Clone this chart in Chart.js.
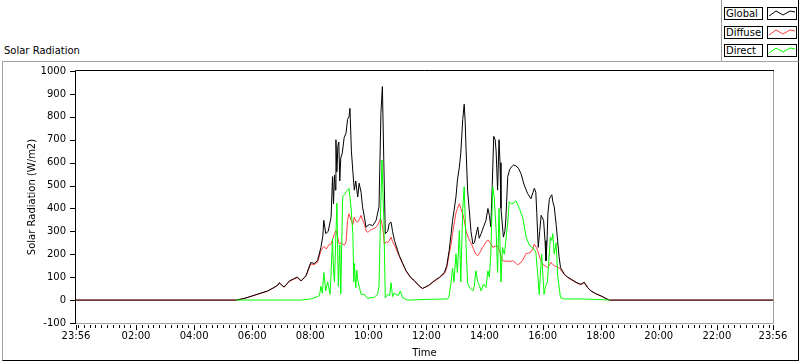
<!DOCTYPE html>
<html><head><meta charset="utf-8">
<script src="https://cdn.jsdelivr.net/npm/chart.js@4.4.0/dist/chart.umd.min.js"></script>
<style>
html,body{margin:0;padding:0;background:#fff;}
#wrap{position:relative;width:800px;height:361px;overflow:hidden;font-family:"DejaVu Sans",sans-serif;font-size:10px;color:#000;}
#frame{position:absolute;left:2px;top:61px;width:795px;height:298px;border-left:1px solid #a0a0a0;border-top:1px solid #a0a0a0;border-right:1px solid #000;border-bottom:1px solid #000;}
#legpanel{position:absolute;left:721px;top:0;width:76px;height:61px;border-left:1px solid #a0a0a0;border-right:1px solid #000;}
#title{position:absolute;left:4px;top:45px;line-height:12px;white-space:nowrap;}
.lab{position:absolute;left:724px;width:37px;height:11px;border:1px solid #000;line-height:11px;padding-left:0;white-space:nowrap;text-indent:1px;background:#fff;}
.smp{position:absolute;left:767px;width:28px;height:11px;border:1px solid #000;background:#fff;}
.smp svg{position:absolute;left:0;top:0;}
canvas{position:absolute;left:0;top:0;}
</style></head>
<body><div id="wrap">
<div id="frame"></div>
<div id="legpanel"></div>
<div id="title">Solar Radiation</div>
<div class="lab" style="top:7px">Global</div>
<div class="smp" style="top:7px"><svg width="28" height="11"><polyline points="1,8 8,3 15,7 22,3 27,4" fill="none" stroke="#000" stroke-width="1"/></svg></div>
<div class="lab" style="top:26px">Diffuse</div>
<div class="smp" style="top:26px"><svg width="28" height="11"><polyline points="1,8 8,3 15,7 22,3 27,4" fill="none" stroke="#ff4040" stroke-width="1"/></svg></div>
<div class="lab" style="top:44px">Direct</div>
<div class="smp" style="top:44px"><svg width="28" height="11"><polyline points="1,8 8,3 15,7 22,3 27,4" fill="none" stroke="#00ff00" stroke-width="1"/></svg></div>
<canvas id="c" width="800" height="361"></canvas>
</div>
<script>
// ---- data (times HH:MM, values W/m2) ----
const axisStartLabel = "23:56";   // previous day
const axisEndLabel = "23:56";
const yTickValues = [-100,0,100,200,300,400,500,600,700,800,900,1000];
const xMajorLabels = ["02:00","04:00","06:00","08:00","10:00","12:00","14:00","16:00","18:00","20:00","22:00"];

const globalTimes = ["05:27","05:45","06:04","06:20","06:32","06:45","06:53","06:56","07:00","07:06","07:17","07:25","07:33","07:41","07:51","08:01","08:08","08:15","08:22","08:26","08:28","08:32","08:37","08:43","08:46","08:48","08:50","08:52","08:53","08:55","08:57","08:59","09:01","09:03","09:06","09:10","09:14","09:17","09:20","09:22","09:25","09:28","09:31","09:34","09:38","09:41","09:45","09:48","09:52","09:55","10:02","10:09","10:16","10:22","10:26","10:29","10:32","10:35","10:40","10:43","10:47","10:50","10:54","11:04","11:11","11:18","11:28","11:35","11:45","11:52","12:05","12:16","12:27","12:37","12:42","12:47","12:51","12:54","12:57","13:01","13:04","13:08","13:11","13:15","13:18","13:20","13:22","13:25","13:29","13:32","13:36","13:39","13:42","13:46","13:49","13:53","13:58","14:03","14:07","14:10","14:13","14:16","14:19","14:22","14:24","14:27","14:30","14:32","14:34","14:39","14:42","14:44","14:48","14:52","14:55","15:00","15:05","15:10","15:15","15:22","15:29","15:36","15:40","15:43","15:46","15:48","15:51","15:54","15:57","16:02","16:05","16:07","16:09","16:11","16:14","16:16","16:19","16:21","16:24","16:28","16:31","16:34","16:37","16:45","16:52","16:59","17:09","17:19","17:26","17:33","17:40","17:50","18:01","18:10","18:18"];
const globalValues = [0,8,21,32,40,55,66,76,68,57,84,92,101,84,106,164,160,172,230,280,348,290,300,362,539,420,546,480,700,560,671,690,520,620,640,709,730,789,800,837,650,560,480,520,450,510,470,407,360,319,330,325,348,407,819,932,600,290,300,334,340,300,260,194,160,128,98,85,62,51,65,84,100,120,150,216,290,348,390,450,524,580,643,789,855,780,650,480,380,300,245,250,280,319,270,290,320,348,400,370,320,500,715,700,650,480,700,600,400,275,300,350,539,570,580,590,586,575,554,502,465,443,470,488,470,379,230,300,370,348,260,172,250,380,440,451,460,430,407,330,260,190,142,113,100,91,78,69,78,55,40,28,18,8,0];

const diffuseTimes = ["05:27","05:45","06:04","06:20","06:32","06:45","06:53","06:56","07:00","07:06","07:17","07:25","07:33","07:41","07:51","08:01","08:08","08:15","08:22","08:28","08:33","08:38","08:43","08:47","08:50","08:53","08:56","09:00","09:04","09:07","09:11","09:14","09:17","09:20","09:24","09:28","09:31","09:34","09:38","09:42","09:45","09:48","09:52","09:56","09:59","10:04","10:09","10:14","10:19","10:25","10:27","10:30","10:33","10:37","10:40","10:44","10:47","10:50","10:54","11:04","11:11","11:18","11:28","11:35","11:45","11:52","12:05","12:16","12:27","12:37","12:42","12:47","12:51","12:54","12:57","13:01","13:04","13:08","13:11","13:15","13:18","13:22","13:27","13:33","13:38","13:42","13:46","13:51","13:56","14:02","14:07","14:12","14:17","14:22","14:27","14:32","14:37","14:42","14:48","14:53","14:58","15:03","15:08","15:13","15:19","15:26","15:31","15:36","15:40","15:43","15:47","15:50","15:55","16:00","16:05","16:10","16:14","16:17","16:21","16:24","16:30","16:35","16:40","16:45","16:52","16:59","17:09","17:19","17:26","17:33","17:40","17:50","18:01","18:10","18:18"];
const diffuseValues = [0,8,20,31,39,54,65,74,67,56,82,90,98,83,104,158,155,165,215,235,223,240,245,270,290,304,280,245,250,245,240,255,348,377,350,330,362,345,340,355,370,350,330,300,296,305,310,315,326,355,345,310,245,255,250,262,275,255,240,190,158,126,96,84,61,50,64,82,98,115,140,200,245,290,330,380,400,421,400,377,350,300,270,245,220,200,194,210,230,250,263,250,230,235,238,210,172,170,170,168,172,165,154,160,175,204,205,210,225,245,230,215,180,157,150,142,150,165,155,150,145,140,125,111,98,89,76,67,76,54,39,27,17,7,0];

const directTimes = ["05:27","07:40","08:01","08:15","08:19","08:22","08:25","08:28","08:32","08:36","08:41","08:46","08:48","08:50","08:53","08:55","08:58","09:01","09:03","09:07","09:10","09:14","09:17","09:20","09:24","09:28","09:30","09:31","09:34","09:36","09:38","09:41","09:45","09:52","09:58","10:05","10:12","10:19","10:22","10:25","10:28","10:30","10:32","10:35","10:40","10:44","10:47","10:50","10:53","10:57","11:02","11:06","11:11","11:21","12:00","12:44","12:47","12:51","12:54","12:57","13:01","13:04","13:08","13:11","13:15","13:18","13:22","13:25","13:29","13:36","13:39","13:42","13:46","13:50","13:53","13:58","14:03","14:07","14:10","14:13","14:17","14:20","14:24","14:27","14:30","14:34","14:37","14:41","14:44","14:48","14:51","14:56","15:01","15:05","15:08","15:12","15:19","15:26","15:33","15:39","15:46","15:50","15:53","15:58","16:03","16:06","16:10","16:16","16:19","16:21","16:24","16:28","16:31","16:37","16:45","17:19","18:01","18:18"];
const directValues = [0,0,5,15,20,60,30,120,40,80,25,268,130,80,290,423,60,240,26,451,460,473,480,488,410,290,80,160,54,130,90,60,25,25,8,10,12,25,60,348,612,480,350,10,25,20,76,15,30,25,20,40,10,0,3,5,20,80,140,80,202,120,304,80,400,495,230,75,55,40,60,128,80,60,40,70,55,128,100,202,495,450,304,120,400,79,230,200,260,340,429,420,425,433,420,400,360,275,238,230,210,110,25,200,25,60,80,275,260,290,200,250,110,10,5,5,2,0];

// ---- helpers ----
const X_MIN = -4, X_MAX = 1436;
function toMin(s){const [h,m]=s.split(":").map(Number);return h*60+m;}
function pts(times, vals){return times.map((t,i)=>({x:toMin(t),y:vals[i]}));}
function fmt(v){
  if (v===X_MIN) return axisStartLabel;
  if (v===X_MAX) return axisEndLabel;
  const h=Math.floor(v/60), m=v%60;
  const s=String(h).padStart(2,"0")+":"+String(m).padStart(2,"0");
  return xMajorLabels.includes(s)?s:"";
}
const globalData = [{x:X_MIN,y:0}].concat(pts(globalTimes,globalValues),[{x:X_MAX,y:0}]);
const diffuseData = [{x:X_MIN,y:0}].concat(pts(diffuseTimes,diffuseValues),[{x:X_MAX,y:0}]);
const directData = pts(directTimes,directValues);

const FONT = {family:"DejaVu Sans", size:10};

const framePlugin = {
  id:'frame',
  afterDraw(chart){
    const {ctx, chartArea:a, scales:{x,y}} = chart;
    ctx.save();
    ctx.lineWidth=1;
    ctx.strokeStyle='#a0a0a0';
    ctx.beginPath();
    ctx.moveTo(a.right+0.5,a.top); ctx.lineTo(a.right+0.5,a.bottom+0.5); ctx.lineTo(a.left,a.bottom+0.5);
    ctx.stroke();
    ctx.strokeStyle='#000';
    ctx.beginPath();
    ctx.moveTo(a.left-0.5,a.bottom+1); ctx.lineTo(a.left-0.5,a.top-0.5); ctx.lineTo(a.right+1,a.top-0.5);
    ctx.stroke();
    ctx.beginPath();
    x.ticks.forEach(t=>{
      const px=Math.round(x.getPixelForValue(t.value))+0.5;
      const major = (t.value%120===0 && t.value>0) || t.value===X_MIN || t.value===X_MAX;
      ctx.moveTo(px,a.bottom+2); ctx.lineTo(px,a.bottom+(major?7:5));
    });
    y.ticks.forEach(t=>{
      const py=Math.round(y.getPixelForValue(t.value))+0.5;
      ctx.moveTo(a.left-6,py); ctx.lineTo(a.left-1,py);
    });
    ctx.stroke();
    ctx.restore();
  }
};

new Chart(document.getElementById('c'),{
  type:'line',
  data:{datasets:[
    {label:'Direct',data:directData,borderColor:'#00ff00',borderWidth:1,pointRadius:0,tension:0,order:0},
    {label:'Global',data:globalData,borderColor:'#000000',borderWidth:1,pointRadius:0,tension:0,order:1},
    {label:'Diffuse',data:diffuseData,borderColor:'#ff4040',borderWidth:1,pointRadius:0,tension:0,order:2}
  ]},
  options:{
    responsive:false,animation:false,
    layout:{padding:{left:0,top:71,right:27,bottom:0}},
    plugins:{legend:{display:false},tooltip:{enabled:false}},
    scales:{
      x:{type:'linear',min:X_MIN,max:X_MAX,
        afterBuildTicks(s){const t=[{value:X_MIN}];for(let v=0;v<=1428;v+=12)t.push({value:v});t.push({value:X_MAX});s.ticks=t;},
        afterFit(s){s.height=38;},
        grid:{display:false,drawTicks:false},border:{display:false},
        ticks:{autoSkip:false,maxRotation:0,minRotation:0,padding:7,color:'#000',font:FONT,callback:(v)=>fmt(v)},
        title:{display:true,text:'Time',color:'#000',font:FONT,padding:{top:0,bottom:2}}
      },
      y:{type:'linear',min:-100,max:1000,
        afterBuildTicks(s){s.ticks=yTickValues.map(v=>({value:v}));},
        afterFit(s){s.width=76;},
        grid:{display:false,drawTicks:false},border:{display:false},
        ticks:{padding:10,color:'#000',font:FONT,callback:(v)=>String(v)},
        title:{display:true,text:'Solar Radiation (W/m2)',color:'#000',font:FONT,padding:{top:26,bottom:0}}
      }
    }
  },
  plugins:[framePlugin]
});
</script>
</body></html>
